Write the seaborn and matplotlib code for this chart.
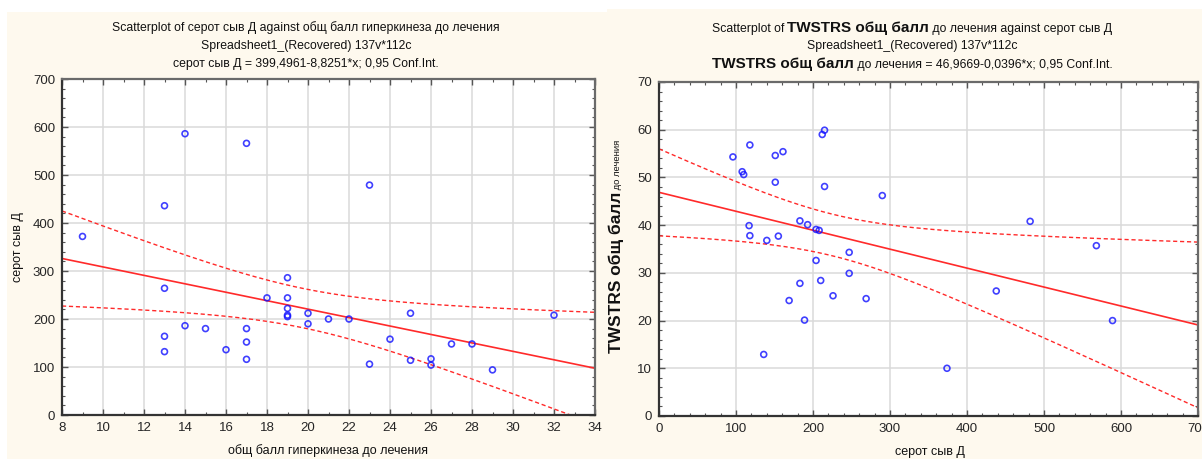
import numpy as np
import pandas as pd
import matplotlib
matplotlib.use("Agg")
import matplotlib.pyplot as plt
import seaborn as sns
from matplotlib.patches import Rectangle
from matplotlib.ticker import MultipleLocator
from matplotlib.offsetbox import TextArea, HPacker, AnnotationBbox

# ---------------------------------------------------------------------------
# DATA
# ---------------------------------------------------------------------------
# left: общ балл гиперкинеза до лечения (x) vs серот сыв Д (y)
hyperkinesis = [9, 13, 13, 13, 13, 14, 14, 15, 16, 17, 17, 17, 17, 18,
                19, 19, 19, 19, 19, 20, 20, 21, 22, 23, 23, 24, 25, 25,
                26, 26, 27, 28, 29, 32]
serotonin_left = [372, 436, 264, 164, 132, 586, 186, 180, 136, 566, 180, 152, 116, 244,
                  286, 244, 222, 208, 205, 212, 190, 200, 200, 479, 106, 158, 212, 114,
                  117, 104, 148, 148, 94, 208]

# right: серот сыв Д (x) vs TWSTRS общ балл до лечения (y)
serotonin_right = [96, 118, 108, 110, 151, 161, 151, 212, 215, 215, 290, 117,
                   118, 140, 155, 183, 193, 204, 208, 204, 247, 247, 210, 169,
                   183, 189, 226, 269, 136, 482, 568, 438, 589, 374]
twstrs = [54.3, 56.8, 51.2, 50.6, 54.6, 55.4, 49.0, 59.0, 59.9, 48.1, 46.2, 39.9,
          37.8, 36.8, 37.7, 40.9, 40.1, 39.1, 38.9, 32.6, 34.3, 29.9, 28.4, 24.2,
          27.8, 20.1, 25.2, 24.6, 12.9, 40.8, 35.7, 26.2, 20.0, 10.0]

T_CRIT = 2.035  # t(0.975, df~32)

CREAM = "#FEF9EE"
BLUE = "#1010FF"
RED = "#FF2A2A"
FONT = ["Liberation Sans", "DejaVu Sans"]

sns.set_style("ticks")
plt.rcParams["font.family"] = FONT
plt.rcParams["text.color"] = "#111111"

W, H = 1202, 459
fig = plt.figure(figsize=(W / 100, H / 100), dpi=100, facecolor="white")

# cream panels behind each graph
fig.patches.append(Rectangle((7 / W, 0), 600 / W, (H - 12) / H, transform=fig.transFigure,
                             facecolor=CREAM, edgecolor="none", zorder=-10))
fig.patches.append(Rectangle((607 / W, 0), 595 / W, (H - 9) / H, transform=fig.transFigure,
                             facecolor=CREAM, edgecolor="none", zorder=-10))

ax1 = fig.add_axes([62 / W, 1 - 415 / H, 533 / W, 336 / H])
ax2 = fig.add_axes([659 / W, 1 - 416 / H, 539 / W, 334 / H])


def ci_lines(ax, x, y, xlim):
    """95% confidence band for the mean, drawn as dashed lines like STATISTICA."""
    x = np.asarray(x, float)
    y = np.asarray(y, float)
    n = len(x)
    slope, icpt = np.polyfit(x, y, 1)
    resid = y - (icpt + slope * x)
    s = np.sqrt((resid ** 2).sum() / (n - 2))
    sxx = ((x - x.mean()) ** 2).sum()
    grid = np.linspace(xlim[0], xlim[1], 200)
    fit = icpt + slope * grid
    half = T_CRIT * s * np.sqrt(1 / n + (grid - x.mean()) ** 2 / sxx)
    band = pd.DataFrame({"x": grid, "lo": fit - half, "hi": fit + half})
    for col in ["lo", "hi"]:
        sns.lineplot(data=band, x="x", y=col, ax=ax, color=RED, lw=1.0,
                     linestyle=(0, (3, 2)), zorder=2)


def style_axes(ax, xlim, ylim, xmaj, xmin, ymaj, ymin):
    ax.set_xlim(*xlim)
    ax.set_ylim(*ylim)
    ax.xaxis.set_major_locator(MultipleLocator(xmaj))
    ax.xaxis.set_minor_locator(MultipleLocator(xmin))
    ax.yaxis.set_major_locator(MultipleLocator(ymaj))
    ax.yaxis.set_minor_locator(MultipleLocator(ymin))
    ax.grid(True, which="major", color="#DADADA", lw=1.1)
    ax.set_axisbelow(True)
    ax.tick_params(which="both", direction="in", top=True, right=True,
                   labeltop=False, labelright=False, color="#555555")
    ax.tick_params(which="major", length=4, width=1, labelsize=9.5, pad=5)
    ax.tick_params(which="minor", length=2, width=0.8)
    for side in ["left", "bottom"]:
        ax.spines[side].set_color("#333333")
        ax.spines[side].set_linewidth(1.6)
    for side in ["top", "right"]:
        ax.spines[side].set_color("#6A6A6A")
        ax.spines[side].set_linewidth(1.6)
    ax.set_xlabel("")
    ax.set_ylabel("")


def draw_panel(ax, x, y, xlim, ylim):
    ax.set_xlim(*xlim)
    ax.set_ylim(*ylim)
    df = pd.DataFrame({"x": x, "y": y})
    sns.regplot(data=df, x="x", y="y", ax=ax, ci=None, truncate=False,
                marker="o",
                scatter_kws=dict(s=18, facecolors="none", edgecolors=BLUE, linewidths=1.2, zorder=3),
                line_kws=dict(color=RED, lw=1.2, zorder=2))
    ci_lines(ax, x, y, xlim)


draw_panel(ax1, hyperkinesis, serotonin_left, (8, 34), (0, 700))
style_axes(ax1, (8, 34), (0, 700), 2, 1, 100, 20)

draw_panel(ax2, serotonin_right, twstrs, (0, 700), (0, 70))
style_axes(ax2, (0, 700), (0, 70), 100, 20, 10, 2)


# ---------------------------------------------------------------------------
# TITLES & LABELS
# ---------------------------------------------------------------------------
def mixed_line(parts, cx, cy):
    boxes = [TextArea(t, textprops=dict(family=FONT, **kw)) for t, kw in parts]
    pack = HPacker(children=boxes, align="baseline", pad=0, sep=0)
    ab = AnnotationBbox(pack, (cx / W, 1 - cy / H), xycoords="figure fraction",
                        box_alignment=(0.5, 0.5), frameon=False, pad=0)
    fig.add_artist(ab)


NORM = dict(size=8.8)
BOLD = dict(size=11, weight="bold")

fig.text(306 / W, 1 - 28 / H, "Scatterplot of серот сыв Д against общ балл гиперкинеза до лечения",
         ha="center", va="center", size=8.8)
fig.text(306 / W, 1 - 46 / H, "Spreadsheet1_(Recovered) 137v*112c", ha="center", va="center", size=8.8)
fig.text(306 / W, 1 - 64 / H, "серот сыв Д = 399,4961-8,8251*x; 0,95 Conf.Int.",
         ha="center", va="center", size=8.8)

mixed_line([("Scatterplot of ", NORM), ("TWSTRS общ балл", BOLD),
            (" до лечения against серот сыв Д", NORM)], 912, 28)
fig.text(912 / W, 1 - 46 / H, "Spreadsheet1_(Recovered) 137v*112c", ha="center", va="center", size=8.8)
mixed_line([("TWSTRS общ балл", BOLD), (" до лечения = 46,9669-0,0396*x; 0,95 Conf.Int.", NORM)],
           912, 64)

fig.text(328 / W, 1 - 451 / H, "общ балл гиперкинеза до лечения", ha="center", va="center", size=9)
fig.text(18 / W, 1 - 247 / H, "серот сыв Д", ha="center", va="center", rotation=90, size=9)
fig.text(930 / W, 1 - 452 / H, "серот сыв Д", ha="center", va="center", size=9)

# right y label: bold part + small part, stacked upward on a shared baseline
ylab1 = fig.text(624 / W, 1 - 353 / H, "TWSTRS общ балл", rotation=90, ha="right", va="bottom",
                 size=12.5, weight="bold")
ylab2 = ax2.annotate(" до лечения", xy=(1, 1), xycoords=ylab1, xytext=(-1.3, 0),
                     textcoords="offset points", ha="right", va="bottom",
                     rotation=90, size=6.8, annotation_clip=False)

fig.savefig("out.png", dpi=100, facecolor="white")
